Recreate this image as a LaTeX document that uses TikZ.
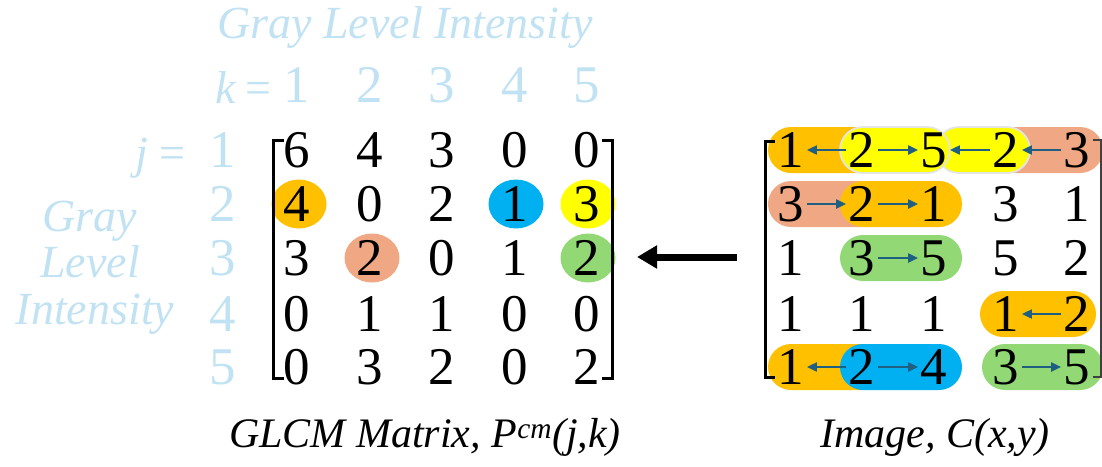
\documentclass[tikz,border=0pt]{standalone}
\usepackage{fontspec}
\setmainfont{Liberation Serif}
\usetikzlibrary{arrows.meta}

\definecolor{lbl}{RGB}{192,226,243}
\definecolor{cOrange}{RGB}{255,192,0}
\definecolor{cYellow}{RGB}{255,255,0}
\definecolor{cBlue}{RGB}{0,176,240}
\definecolor{cSalmon}{RGB}{240,168,132}
\definecolor{cGreen}{RGB}{146,216,116}
\definecolor{pairArrow}{RGB}{31,95,130}
\definecolor{rimGray}{RGB}{228,228,228}

% rounded pair highlight: colour, left x, right x, centre y
\newcommand\pairpill[5][]{\fill[#2,rounded corners=23pt,#1] (#3,#5-23) rectangle (#4,#5+23);}

\begin{document}
\begin{tikzpicture}[x=1pt,y=-1pt,
  num/.style={font=\fontsize{53}{53}\selectfont, inner sep=0pt, inner xsep=2.5pt},
  lbnum/.style={num, text=lbl},
  lbit/.style={text=lbl, font=\itshape\fontsize{46}{46}\selectfont, inner sep=0pt,
               text height=0.68em, text depth=0.2em},
  caption/.style={font=\itshape\fontsize{42}{42}\selectfont, inner sep=0pt},
  pair/.style={draw=pairArrow, line width=2.2pt, -{Triangle[length=10pt,width=9pt]}},
  bigarrow/.style={line width=7pt, -{Triangle[length=20pt,width=22pt]}},
  bracket/.style={line width=3pt},
  rim/.style={draw=rimGray, line width=1.8pt}]

\useasboundingbox (0,0) rectangle (1102,466);

% ---------- axis labels of the co-occurrence matrix ----------
\node[lbit, anchor=base] (title) at (405,38) {Gray Level Intensity};
\node[lbit, anchor=base east] (keq) at (272,103) {k\hspace{10pt}\upshape =};
\node[lbit, anchor=base east] (jeq) at (186,168) {j\hspace{12pt}\upshape =};
\node[lbit, anchor=base] (gray) at (90,231) {Gray};
\node[lbit, anchor=base] (level) at (90,277) {Level};
\node[lbit, anchor=base] (inten) at (95,324) {Intensity};

\foreach \c/\x in {1/297,2/370,3/442,4/515,5/587}
  \node[lbnum] (k\c) at (\x,85) {\c};
\foreach \r/\y in {1/150,2/204,3/258,4/314,5/367}
  \node[lbnum] (j\r) at (223,\y) {\r};

% ---------- highlighted entries of the co-occurrence matrix ----------
\fill[cOrange] (299,204) ellipse (27.5 and 24.5);
\fill[cBlue]   (516,204) ellipse (27.5 and 24.5);
\fill[cYellow] (588,204) ellipse (27.5 and 24.5);
\fill[cSalmon] (372,258) ellipse (27.5 and 24.5);
\fill[cGreen]  (588,258) ellipse (27.5 and 24.5);

% ---------- highlighted pixel pairs of the image ----------
% row 1
\pairpill{cOrange}{768}{900}{150}
\pairpill{cSalmon}{985}{1103}{150}
\pairpill[rim]{cYellow}{936}{1030}{150}
\pairpill[rim]{cYellow}{840}{950}{150}
% row 2
\pairpill{cSalmon}{768}{885}{204}
\pairpill{cOrange}{840}{962}{204}
% row 3
\pairpill{cGreen}{840}{962}{258}
% row 4
\pairpill{cOrange}{980}{1096}{314}
% row 5
\pairpill{cOrange}{768}{885}{367}
\pairpill{cBlue}{840}{962}{367}
\pairpill{cGreen}{982}{1103}{367}

% ---------- matrix entries ----------
\foreach \vals [count=\r] in {{6,4,3,0,0},{4,0,2,1,3},{3,2,0,1,2},{0,1,1,0,0},{0,3,2,0,2}}{
  \pgfmathsetmacro\yy{{150,204,258,314,367}[\r-1]}
  \foreach \v [count=\c] in \vals {
    \pgfmathsetmacro\xx{{297,370,442,515,587}[\c-1]}
    \node[num] (g\r\c) at (\xx,\yy) {\v};
  }
}
\foreach \vals [count=\r] in {{1,2,5,2,3},{3,2,1,3,1},{1,3,5,5,2},{1,1,1,1,2},{1,2,4,3,5}}{
  \pgfmathsetmacro\yy{{150,204,258,314,367}[\r-1]}
  \foreach \v [count=\c] in \vals {
    \pgfmathsetmacro\xx{{791,862,934,1006,1077}[\c-1]}
    \node[num] (p\r\c) at (\xx,\yy) {\v};
  }
}

% ---------- brackets ----------
\draw[bracket] (284,140) -- (273.5,140) -- (273.5,378) -- (284,378);
\draw[bracket] (602,140) -- (612.5,140) -- (612.5,378) -- (602,378);
\draw[bracket] (775,141) -- (765.5,141) -- (765.5,377) -- (775,377);
\draw[line width=1.2pt, black!75] (1093,140) -- (1101,140) -- (1101,377) -- (1093,377);

% ---------- neighbouring pixel pairs ----------
\draw[pair] (p12) -- (p11);
\draw[pair] (p12) -- (p13);
\draw[pair] (p14) -- (p13);
\draw[pair] (p15) -- (p14);
\draw[pair] (p21) -- (p22);
\draw[pair] (p22) -- (p23);
\draw[pair] (p32) -- (p33);
\draw[pair] (p45) -- (p44);
\draw[pair] (p52) -- (p51);
\draw[pair] (p52) -- (p53);
\draw[pair] (p54) -- (p55);

% ---------- image to matrix ----------
\coordinate (from) at (737,257);
\coordinate (to) at (637,257);
\draw[bigarrow] (from) -- (to);

% ---------- captions ----------
\node[caption] (capG) at (425,437) {GLCM Matrix, P\textsuperscript{cm}(j,k)};
\node[caption] (capI) at (935,437) {Image, C(x,y)};
\end{tikzpicture}
\end{document}
